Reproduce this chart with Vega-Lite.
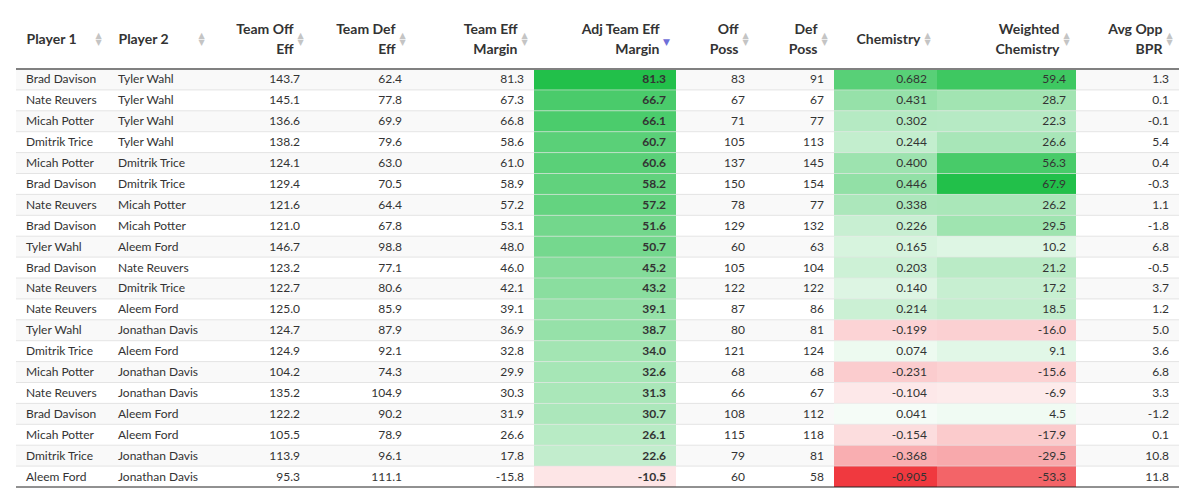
{
  "$schema": "https://vega.github.io/schema/vega-lite/v6.json",
  "background": "#ffffff",
  "padding": {"left": 15, "top": 22, "right": 0, "bottom": 0},
  "spacing": 0,
  "bounds": "flush",
  "data": {"values": [
    {"r": 1, "p1": "Brad Davison", "p2": "Tyler Wahl", "off": 143.7, "def": 62.4, "tem": 81.3, "adj": 81.3, "op": 83, "dp": 91, "chem": 0.682, "wchem": 59.4, "bpr": 1.3},
    {"r": 2, "p1": "Nate Reuvers", "p2": "Tyler Wahl", "off": 145.1, "def": 77.8, "tem": 67.3, "adj": 66.7, "op": 67, "dp": 67, "chem": 0.431, "wchem": 28.7, "bpr": 0.1},
    {"r": 3, "p1": "Micah Potter", "p2": "Tyler Wahl", "off": 136.6, "def": 69.9, "tem": 66.8, "adj": 66.1, "op": 71, "dp": 77, "chem": 0.302, "wchem": 22.3, "bpr": -0.1},
    {"r": 4, "p1": "Dmitrik Trice", "p2": "Tyler Wahl", "off": 138.2, "def": 79.6, "tem": 58.6, "adj": 60.7, "op": 105, "dp": 113, "chem": 0.244, "wchem": 26.6, "bpr": 5.4},
    {"r": 5, "p1": "Micah Potter", "p2": "Dmitrik Trice", "off": 124.1, "def": 63.0, "tem": 61.0, "adj": 60.6, "op": 137, "dp": 145, "chem": 0.400, "wchem": 56.3, "bpr": 0.4},
    {"r": 6, "p1": "Brad Davison", "p2": "Dmitrik Trice", "off": 129.4, "def": 70.5, "tem": 58.9, "adj": 58.2, "op": 150, "dp": 154, "chem": 0.446, "wchem": 67.9, "bpr": -0.3},
    {"r": 7, "p1": "Nate Reuvers", "p2": "Micah Potter", "off": 121.6, "def": 64.4, "tem": 57.2, "adj": 57.2, "op": 78, "dp": 77, "chem": 0.338, "wchem": 26.2, "bpr": 1.1},
    {"r": 8, "p1": "Brad Davison", "p2": "Micah Potter", "off": 121.0, "def": 67.8, "tem": 53.1, "adj": 51.6, "op": 129, "dp": 132, "chem": 0.226, "wchem": 29.5, "bpr": -1.8},
    {"r": 9, "p1": "Tyler Wahl", "p2": "Aleem Ford", "off": 146.7, "def": 98.8, "tem": 48.0, "adj": 50.7, "op": 60, "dp": 63, "chem": 0.165, "wchem": 10.2, "bpr": 6.8},
    {"r": 10, "p1": "Brad Davison", "p2": "Nate Reuvers", "off": 123.2, "def": 77.1, "tem": 46.0, "adj": 45.2, "op": 105, "dp": 104, "chem": 0.203, "wchem": 21.2, "bpr": -0.5},
    {"r": 11, "p1": "Nate Reuvers", "p2": "Dmitrik Trice", "off": 122.7, "def": 80.6, "tem": 42.1, "adj": 43.2, "op": 122, "dp": 122, "chem": 0.140, "wchem": 17.2, "bpr": 3.7},
    {"r": 12, "p1": "Nate Reuvers", "p2": "Aleem Ford", "off": 125.0, "def": 85.9, "tem": 39.1, "adj": 39.1, "op": 87, "dp": 86, "chem": 0.214, "wchem": 18.5, "bpr": 1.2},
    {"r": 13, "p1": "Tyler Wahl", "p2": "Jonathan Davis", "off": 124.7, "def": 87.9, "tem": 36.9, "adj": 38.7, "op": 80, "dp": 81, "chem": -0.199, "wchem": -16.0, "bpr": 5.0},
    {"r": 14, "p1": "Dmitrik Trice", "p2": "Aleem Ford", "off": 124.9, "def": 92.1, "tem": 32.8, "adj": 34.0, "op": 121, "dp": 124, "chem": 0.074, "wchem": 9.1, "bpr": 3.6},
    {"r": 15, "p1": "Micah Potter", "p2": "Jonathan Davis", "off": 104.2, "def": 74.3, "tem": 29.9, "adj": 32.6, "op": 68, "dp": 68, "chem": -0.231, "wchem": -15.6, "bpr": 6.8},
    {"r": 16, "p1": "Nate Reuvers", "p2": "Jonathan Davis", "off": 135.2, "def": 104.9, "tem": 30.3, "adj": 31.3, "op": 66, "dp": 67, "chem": -0.104, "wchem": -6.9, "bpr": 3.3},
    {"r": 17, "p1": "Brad Davison", "p2": "Aleem Ford", "off": 122.2, "def": 90.2, "tem": 31.9, "adj": 30.7, "op": 108, "dp": 112, "chem": 0.041, "wchem": 4.5, "bpr": -1.2},
    {"r": 18, "p1": "Micah Potter", "p2": "Aleem Ford", "off": 105.5, "def": 78.9, "tem": 26.6, "adj": 26.1, "op": 115, "dp": 118, "chem": -0.154, "wchem": -17.9, "bpr": 0.1},
    {"r": 19, "p1": "Dmitrik Trice", "p2": "Jonathan Davis", "off": 113.9, "def": 96.1, "tem": 17.8, "adj": 22.6, "op": 79, "dp": 81, "chem": -0.368, "wchem": -29.5, "bpr": 10.8},
    {"r": 20, "p1": "Aleem Ford", "p2": "Jonathan Davis", "off": 95.3, "def": 111.1, "tem": -15.8, "adj": -10.5, "op": 60, "dp": 58, "chem": -0.905, "wchem": -53.3, "bpr": 11.8}
  ]},
  "resolve": {"scale": {"x": "independent", "y": "independent", "fill": "independent"}, "axis": {"x": "independent", "y": "independent"}},
  "hconcat": [
    {"width": 92, "height": 418,
     "encoding": {"y": {"field": "r", "type": "ordinal", "scale": {"paddingInner": 0, "paddingOuter": 0}, "axis": null}},
     "layer": [
       {"mark": "rect", "encoding": {"fill": {"condition": {"test": "datum.r % 2 == 1", "value": "#f9f9f9"}, "value": "#ffffff"}}},
       {"mark": {"type": "rule", "color": "#e4e4e4", "strokeWidth": 1}, "transform": [{"filter": "datum.r > 1"}], "encoding": {"y": {"field": "r", "type": "ordinal", "bandPosition": 0, "axis": null}}},
       {"mark": {"type": "rule", "color": "#808080", "strokeWidth": 2}, "transform": [{"filter": "datum.r == 1"}], "encoding": {"y": {"field": "r", "type": "ordinal", "bandPosition": 0, "axis": null}}},
       {"mark": {"type": "rule", "color": "#222222", "strokeWidth": 1}, "transform": [{"filter": "datum.r == 20"}], "encoding": {"y": {"field": "r", "type": "ordinal", "bandPosition": 1, "axis": null}}},
       {"mark": {"type": "text", "align": "left", "dx": 10, "font": "Lato", "fontSize": 12, "color": "#333333"},
        "encoding": {"x": {"datum": 0, "type": "quantitative", "scale": {"domain": [0, 1]}, "axis": {"orient": "top", "title": "Player 1", "titleX": 10, "titleY": -30, "titleAlign": "left"}},
                     "text": {"field": "p1", "type": "nominal"}}},
       {"mark": {"type": "text"}, "encoding": {"x": {"datum": 0, "type": "quantitative", "axis": {"orient": "bottom", "title": ["▲", "▼"], "titleX": 82}}, "text": {"value": ""}}}
     ]},
    {"width": 103, "height": 418,
     "encoding": {"y": {"field": "r", "type": "ordinal", "scale": {"paddingInner": 0, "paddingOuter": 0}, "axis": null}},
     "layer": [
       {"mark": "rect", "encoding": {"fill": {"condition": {"test": "datum.r % 2 == 1", "value": "#f9f9f9"}, "value": "#ffffff"}}},
       {"mark": {"type": "rule", "color": "#e4e4e4", "strokeWidth": 1}, "transform": [{"filter": "datum.r > 1"}], "encoding": {"y": {"field": "r", "type": "ordinal", "bandPosition": 0, "axis": null}}},
       {"mark": {"type": "rule", "color": "#808080", "strokeWidth": 2}, "transform": [{"filter": "datum.r == 1"}], "encoding": {"y": {"field": "r", "type": "ordinal", "bandPosition": 0, "axis": null}}},
       {"mark": {"type": "rule", "color": "#222222", "strokeWidth": 1}, "transform": [{"filter": "datum.r == 20"}], "encoding": {"y": {"field": "r", "type": "ordinal", "bandPosition": 1, "axis": null}}},
       {"mark": {"type": "text", "align": "left", "dx": 10, "font": "Lato", "fontSize": 12, "color": "#333333"},
        "encoding": {"x": {"datum": 0, "type": "quantitative", "scale": {"domain": [0, 1]}, "axis": {"orient": "top", "title": "Player 2", "titleX": 10, "titleY": -30, "titleAlign": "left"}},
                     "text": {"field": "p2", "type": "nominal"}}},
       {"mark": {"type": "text"}, "encoding": {"x": {"datum": 0, "type": "quantitative", "axis": {"orient": "bottom", "title": ["▲", "▼"], "titleX": 93}}, "text": {"value": ""}}}
     ]},
    {"width": 99, "height": 418,
     "encoding": {"y": {"field": "r", "type": "ordinal", "scale": {"paddingInner": 0, "paddingOuter": 0}, "axis": null}},
     "layer": [
       {"mark": "rect", "encoding": {"fill": {"condition": {"test": "datum.r % 2 == 1", "value": "#f9f9f9"}, "value": "#ffffff"}}},
       {"mark": {"type": "rule", "color": "#e4e4e4", "strokeWidth": 1}, "transform": [{"filter": "datum.r > 1"}], "encoding": {"y": {"field": "r", "type": "ordinal", "bandPosition": 0, "axis": null}}},
       {"mark": {"type": "rule", "color": "#808080", "strokeWidth": 2}, "transform": [{"filter": "datum.r == 1"}], "encoding": {"y": {"field": "r", "type": "ordinal", "bandPosition": 0, "axis": null}}},
       {"mark": {"type": "rule", "color": "#222222", "strokeWidth": 1}, "transform": [{"filter": "datum.r == 20"}], "encoding": {"y": {"field": "r", "type": "ordinal", "bandPosition": 1, "axis": null}}},
       {"mark": {"type": "text", "align": "right", "dx": -10, "font": "Lato", "fontSize": 12, "color": "#333333"},
        "encoding": {"x": {"datum": 1, "type": "quantitative", "scale": {"domain": [0, 1]}, "axis": {"orient": "top", "title": ["Team Off", "Eff"], "titleX": 82, "titleAlign": "right"}},
                     "text": {"field": "off", "type": "quantitative", "format": ".1f"}}},
       {"mark": {"type": "text"}, "encoding": {"x": {"datum": 1, "type": "quantitative", "axis": {"orient": "bottom", "title": ["▲", "▼"], "titleX": 89}}, "text": {"value": ""}}}
     ]},
    {"width": 102, "height": 418,
     "encoding": {"y": {"field": "r", "type": "ordinal", "scale": {"paddingInner": 0, "paddingOuter": 0}, "axis": null}},
     "layer": [
       {"mark": "rect", "encoding": {"fill": {"condition": {"test": "datum.r % 2 == 1", "value": "#f9f9f9"}, "value": "#ffffff"}}},
       {"mark": {"type": "rule", "color": "#e4e4e4", "strokeWidth": 1}, "transform": [{"filter": "datum.r > 1"}], "encoding": {"y": {"field": "r", "type": "ordinal", "bandPosition": 0, "axis": null}}},
       {"mark": {"type": "rule", "color": "#808080", "strokeWidth": 2}, "transform": [{"filter": "datum.r == 1"}], "encoding": {"y": {"field": "r", "type": "ordinal", "bandPosition": 0, "axis": null}}},
       {"mark": {"type": "rule", "color": "#222222", "strokeWidth": 1}, "transform": [{"filter": "datum.r == 20"}], "encoding": {"y": {"field": "r", "type": "ordinal", "bandPosition": 1, "axis": null}}},
       {"mark": {"type": "text", "align": "right", "dx": -10, "font": "Lato", "fontSize": 12, "color": "#333333"},
        "encoding": {"x": {"datum": 1, "type": "quantitative", "scale": {"domain": [0, 1]}, "axis": {"orient": "top", "title": ["Team Def", "Eff"], "titleX": 85, "titleAlign": "right"}},
                     "text": {"field": "def", "type": "quantitative", "format": ".1f"}}},
       {"mark": {"type": "text"}, "encoding": {"x": {"datum": 1, "type": "quantitative", "axis": {"orient": "bottom", "title": ["▲", "▼"], "titleX": 92}}, "text": {"value": ""}}}
     ]},
    {"width": 122, "height": 418,
     "encoding": {"y": {"field": "r", "type": "ordinal", "scale": {"paddingInner": 0, "paddingOuter": 0}, "axis": null}},
     "layer": [
       {"mark": "rect", "encoding": {"fill": {"condition": {"test": "datum.r % 2 == 1", "value": "#f9f9f9"}, "value": "#ffffff"}}},
       {"mark": {"type": "rule", "color": "#e4e4e4", "strokeWidth": 1}, "transform": [{"filter": "datum.r > 1"}], "encoding": {"y": {"field": "r", "type": "ordinal", "bandPosition": 0, "axis": null}}},
       {"mark": {"type": "rule", "color": "#808080", "strokeWidth": 2}, "transform": [{"filter": "datum.r == 1"}], "encoding": {"y": {"field": "r", "type": "ordinal", "bandPosition": 0, "axis": null}}},
       {"mark": {"type": "rule", "color": "#222222", "strokeWidth": 1}, "transform": [{"filter": "datum.r == 20"}], "encoding": {"y": {"field": "r", "type": "ordinal", "bandPosition": 1, "axis": null}}},
       {"mark": {"type": "text", "align": "right", "dx": -10, "font": "Lato", "fontSize": 12, "color": "#333333"},
        "encoding": {"x": {"datum": 1, "type": "quantitative", "scale": {"domain": [0, 1]}, "axis": {"orient": "top", "title": ["Team Eff", "Margin"], "titleX": 105, "titleAlign": "right"}},
                     "text": {"field": "tem", "type": "quantitative", "format": ".1f"}}},
       {"mark": {"type": "text"}, "encoding": {"x": {"datum": 1, "type": "quantitative", "axis": {"orient": "bottom", "title": ["▲", "▼"], "titleX": 112}}, "text": {"value": ""}}}
     ]},
    {"width": 142, "height": 418,
     "encoding": {"y": {"field": "r", "type": "ordinal", "scale": {"paddingInner": 0, "paddingOuter": 0}, "axis": null}},
     "layer": [
       {"mark": "rect", "encoding": {"fill": {"condition": {"test": "datum.r % 2 == 1", "value": "#f9f9f9"}, "value": "#ffffff"}}},
       {"mark": "rect", "encoding": {"fill": {"field": "adj", "type": "quantitative", "scale": {"domain": [-81.3, 0, 81.3], "range": ["#f0393f", "#ffffff", "#22c04a"], "interpolate": "rgb"}, "legend": null}}},
       {"mark": {"type": "rule", "color": "#e4e4e4", "strokeWidth": 1, "opacity": 0.6}, "transform": [{"filter": "datum.r > 1"}], "encoding": {"y": {"field": "r", "type": "ordinal", "bandPosition": 0, "axis": null}}},
       {"mark": {"type": "rule", "color": "#808080", "strokeWidth": 2}, "transform": [{"filter": "datum.r == 1"}], "encoding": {"y": {"field": "r", "type": "ordinal", "bandPosition": 0, "axis": null}}},
       {"mark": {"type": "rule", "color": "#222222", "strokeWidth": 1}, "transform": [{"filter": "datum.r == 20"}], "encoding": {"y": {"field": "r", "type": "ordinal", "bandPosition": 1, "axis": null}}},
       {"mark": {"type": "text", "align": "right", "dx": -10, "font": "Lato", "fontSize": 12, "fontWeight": "bold", "color": "#333333"},
        "encoding": {"x": {"datum": 1, "type": "quantitative", "scale": {"domain": [0, 1]}, "axis": {"orient": "top", "title": ["Adj Team Eff", "Margin"], "titleX": 125, "titleAlign": "right"}},
                     "text": {"field": "adj", "type": "quantitative", "format": ".1f"}}},
       {"mark": {"type": "text"}, "encoding": {"x": {"datum": 1, "type": "quantitative", "axis": {"orient": "bottom", "title": "▼", "titleX": 132, "titleY": -446, "titleColor": "#6f6fd8", "titleFontSize": 9}}, "text": {"value": ""}}}
     ]},
    {"width": 79, "height": 418,
     "encoding": {"y": {"field": "r", "type": "ordinal", "scale": {"paddingInner": 0, "paddingOuter": 0}, "axis": null}},
     "layer": [
       {"mark": "rect", "encoding": {"fill": {"condition": {"test": "datum.r % 2 == 1", "value": "#f9f9f9"}, "value": "#ffffff"}}},
       {"mark": {"type": "rule", "color": "#e4e4e4", "strokeWidth": 1}, "transform": [{"filter": "datum.r > 1"}], "encoding": {"y": {"field": "r", "type": "ordinal", "bandPosition": 0, "axis": null}}},
       {"mark": {"type": "rule", "color": "#808080", "strokeWidth": 2}, "transform": [{"filter": "datum.r == 1"}], "encoding": {"y": {"field": "r", "type": "ordinal", "bandPosition": 0, "axis": null}}},
       {"mark": {"type": "rule", "color": "#222222", "strokeWidth": 1}, "transform": [{"filter": "datum.r == 20"}], "encoding": {"y": {"field": "r", "type": "ordinal", "bandPosition": 1, "axis": null}}},
       {"mark": {"type": "text", "align": "right", "dx": -10, "font": "Lato", "fontSize": 12, "color": "#333333"},
        "encoding": {"x": {"datum": 1, "type": "quantitative", "scale": {"domain": [0, 1]}, "axis": {"orient": "top", "title": ["Off", "Poss"], "titleX": 62, "titleAlign": "right"}},
                     "text": {"field": "op", "type": "quantitative", "format": "d"}}},
       {"mark": {"type": "text"}, "encoding": {"x": {"datum": 1, "type": "quantitative", "axis": {"orient": "bottom", "title": ["▲", "▼"], "titleX": 69}}, "text": {"value": ""}}}
     ]},
    {"width": 79, "height": 418,
     "encoding": {"y": {"field": "r", "type": "ordinal", "scale": {"paddingInner": 0, "paddingOuter": 0}, "axis": null}},
     "layer": [
       {"mark": "rect", "encoding": {"fill": {"condition": {"test": "datum.r % 2 == 1", "value": "#f9f9f9"}, "value": "#ffffff"}}},
       {"mark": {"type": "rule", "color": "#e4e4e4", "strokeWidth": 1}, "transform": [{"filter": "datum.r > 1"}], "encoding": {"y": {"field": "r", "type": "ordinal", "bandPosition": 0, "axis": null}}},
       {"mark": {"type": "rule", "color": "#808080", "strokeWidth": 2}, "transform": [{"filter": "datum.r == 1"}], "encoding": {"y": {"field": "r", "type": "ordinal", "bandPosition": 0, "axis": null}}},
       {"mark": {"type": "rule", "color": "#222222", "strokeWidth": 1}, "transform": [{"filter": "datum.r == 20"}], "encoding": {"y": {"field": "r", "type": "ordinal", "bandPosition": 1, "axis": null}}},
       {"mark": {"type": "text", "align": "right", "dx": -10, "font": "Lato", "fontSize": 12, "color": "#333333"},
        "encoding": {"x": {"datum": 1, "type": "quantitative", "scale": {"domain": [0, 1]}, "axis": {"orient": "top", "title": ["Def", "Poss"], "titleX": 62, "titleAlign": "right"}},
                     "text": {"field": "dp", "type": "quantitative", "format": "d"}}},
       {"mark": {"type": "text"}, "encoding": {"x": {"datum": 1, "type": "quantitative", "axis": {"orient": "bottom", "title": ["▲", "▼"], "titleX": 69}}, "text": {"value": ""}}}
     ]},
    {"width": 103, "height": 418,
     "encoding": {"y": {"field": "r", "type": "ordinal", "scale": {"paddingInner": 0, "paddingOuter": 0}, "axis": null}},
     "layer": [
       {"mark": "rect", "encoding": {"fill": {"condition": {"test": "datum.r % 2 == 1", "value": "#f9f9f9"}, "value": "#ffffff"}}},
       {"mark": "rect", "encoding": {"fill": {"field": "chem", "type": "quantitative", "scale": {"domain": [-0.905, 0, 0.905], "range": ["#f0393f", "#ffffff", "#22c04a"], "interpolate": "rgb"}, "legend": null}}},
       {"mark": {"type": "rule", "color": "#e4e4e4", "strokeWidth": 1, "opacity": 0.6}, "transform": [{"filter": "datum.r > 1"}], "encoding": {"y": {"field": "r", "type": "ordinal", "bandPosition": 0, "axis": null}}},
       {"mark": {"type": "rule", "color": "#808080", "strokeWidth": 2}, "transform": [{"filter": "datum.r == 1"}], "encoding": {"y": {"field": "r", "type": "ordinal", "bandPosition": 0, "axis": null}}},
       {"mark": {"type": "rule", "color": "#222222", "strokeWidth": 1}, "transform": [{"filter": "datum.r == 20"}], "encoding": {"y": {"field": "r", "type": "ordinal", "bandPosition": 1, "axis": null}}},
       {"mark": {"type": "text", "align": "right", "dx": -10, "font": "Lato", "fontSize": 12, "color": "#333333"},
        "encoding": {"x": {"datum": 1, "type": "quantitative", "scale": {"domain": [0, 1]}, "axis": {"orient": "top", "title": "Chemistry", "titleX": 86, "titleY": -30, "titleAlign": "right"}},
                     "text": {"field": "chem", "type": "quantitative", "format": ".3f"}}},
       {"mark": {"type": "text"}, "encoding": {"x": {"datum": 1, "type": "quantitative", "axis": {"orient": "bottom", "title": ["▲", "▼"], "titleX": 93}}, "text": {"value": ""}}}
     ]},
    {"width": 139, "height": 418,
     "encoding": {"y": {"field": "r", "type": "ordinal", "scale": {"paddingInner": 0, "paddingOuter": 0}, "axis": null}},
     "layer": [
       {"mark": "rect", "encoding": {"fill": {"condition": {"test": "datum.r % 2 == 1", "value": "#f9f9f9"}, "value": "#ffffff"}}},
       {"mark": "rect", "encoding": {"fill": {"field": "wchem", "type": "quantitative", "scale": {"domain": [-67.9, 0, 67.9], "range": ["#f0393f", "#ffffff", "#22c04a"], "interpolate": "rgb"}, "legend": null}}},
       {"mark": {"type": "rule", "color": "#e4e4e4", "strokeWidth": 1, "opacity": 0.6}, "transform": [{"filter": "datum.r > 1"}], "encoding": {"y": {"field": "r", "type": "ordinal", "bandPosition": 0, "axis": null}}},
       {"mark": {"type": "rule", "color": "#808080", "strokeWidth": 2}, "transform": [{"filter": "datum.r == 1"}], "encoding": {"y": {"field": "r", "type": "ordinal", "bandPosition": 0, "axis": null}}},
       {"mark": {"type": "rule", "color": "#222222", "strokeWidth": 1}, "transform": [{"filter": "datum.r == 20"}], "encoding": {"y": {"field": "r", "type": "ordinal", "bandPosition": 1, "axis": null}}},
       {"mark": {"type": "text", "align": "right", "dx": -10, "font": "Lato", "fontSize": 12, "color": "#333333"},
        "encoding": {"x": {"datum": 1, "type": "quantitative", "scale": {"domain": [0, 1]}, "axis": {"orient": "top", "title": ["Weighted", "Chemistry"], "titleX": 122, "titleAlign": "right"}},
                     "text": {"field": "wchem", "type": "quantitative", "format": ".1f"}}},
       {"mark": {"type": "text"}, "encoding": {"x": {"datum": 1, "type": "quantitative", "axis": {"orient": "bottom", "title": ["▲", "▼"], "titleX": 129}}, "text": {"value": ""}}}
     ]},
    {"width": 103, "height": 418,
     "encoding": {"y": {"field": "r", "type": "ordinal", "scale": {"paddingInner": 0, "paddingOuter": 0}, "axis": null}},
     "layer": [
       {"mark": "rect", "encoding": {"fill": {"condition": {"test": "datum.r % 2 == 1", "value": "#f9f9f9"}, "value": "#ffffff"}}},
       {"mark": {"type": "rule", "color": "#e4e4e4", "strokeWidth": 1}, "transform": [{"filter": "datum.r > 1"}], "encoding": {"y": {"field": "r", "type": "ordinal", "bandPosition": 0, "axis": null}}},
       {"mark": {"type": "rule", "color": "#808080", "strokeWidth": 2}, "transform": [{"filter": "datum.r == 1"}], "encoding": {"y": {"field": "r", "type": "ordinal", "bandPosition": 0, "axis": null}}},
       {"mark": {"type": "rule", "color": "#222222", "strokeWidth": 1}, "transform": [{"filter": "datum.r == 20"}], "encoding": {"y": {"field": "r", "type": "ordinal", "bandPosition": 1, "axis": null}}},
       {"mark": {"type": "text", "align": "right", "dx": -10, "font": "Lato", "fontSize": 12, "color": "#333333"},
        "encoding": {"x": {"datum": 1, "type": "quantitative", "scale": {"domain": [0, 1]}, "axis": {"orient": "top", "title": ["Avg Opp", "BPR"], "titleX": 86, "titleAlign": "right"}},
                     "text": {"field": "bpr", "type": "quantitative", "format": ".1f"}}},
       {"mark": {"type": "text"}, "encoding": {"x": {"datum": 1, "type": "quantitative", "axis": {"orient": "bottom", "title": ["▲", "▼"], "titleX": 93}}, "text": {"value": ""}}}
     ]}
  ],
  "config": {
    "view": {"stroke": null},
    "locale": {"number": {"decimal": ".", "thousands": ",", "grouping": [3], "currency": ["$", ""], "minus": "-"}},
    "axis": {"domain": false, "ticks": false, "labels": false, "grid": false},
    "axisTop": {"titleFontSize": 14, "titleLineHeight": 20, "titleFont": "Lato", "titleFontWeight": "bold", "titleColor": "#333333", "titleBaseline": "middle", "titleY": -40},
    "axisBottom": {"titleFontSize": 8, "titleLineHeight": 7, "titleColor": "#c4c4c4", "titleFont": "DejaVu Sans", "titleFontWeight": "normal", "titleAlign": "center", "titleBaseline": "middle", "titleY": -452}
  }
}
